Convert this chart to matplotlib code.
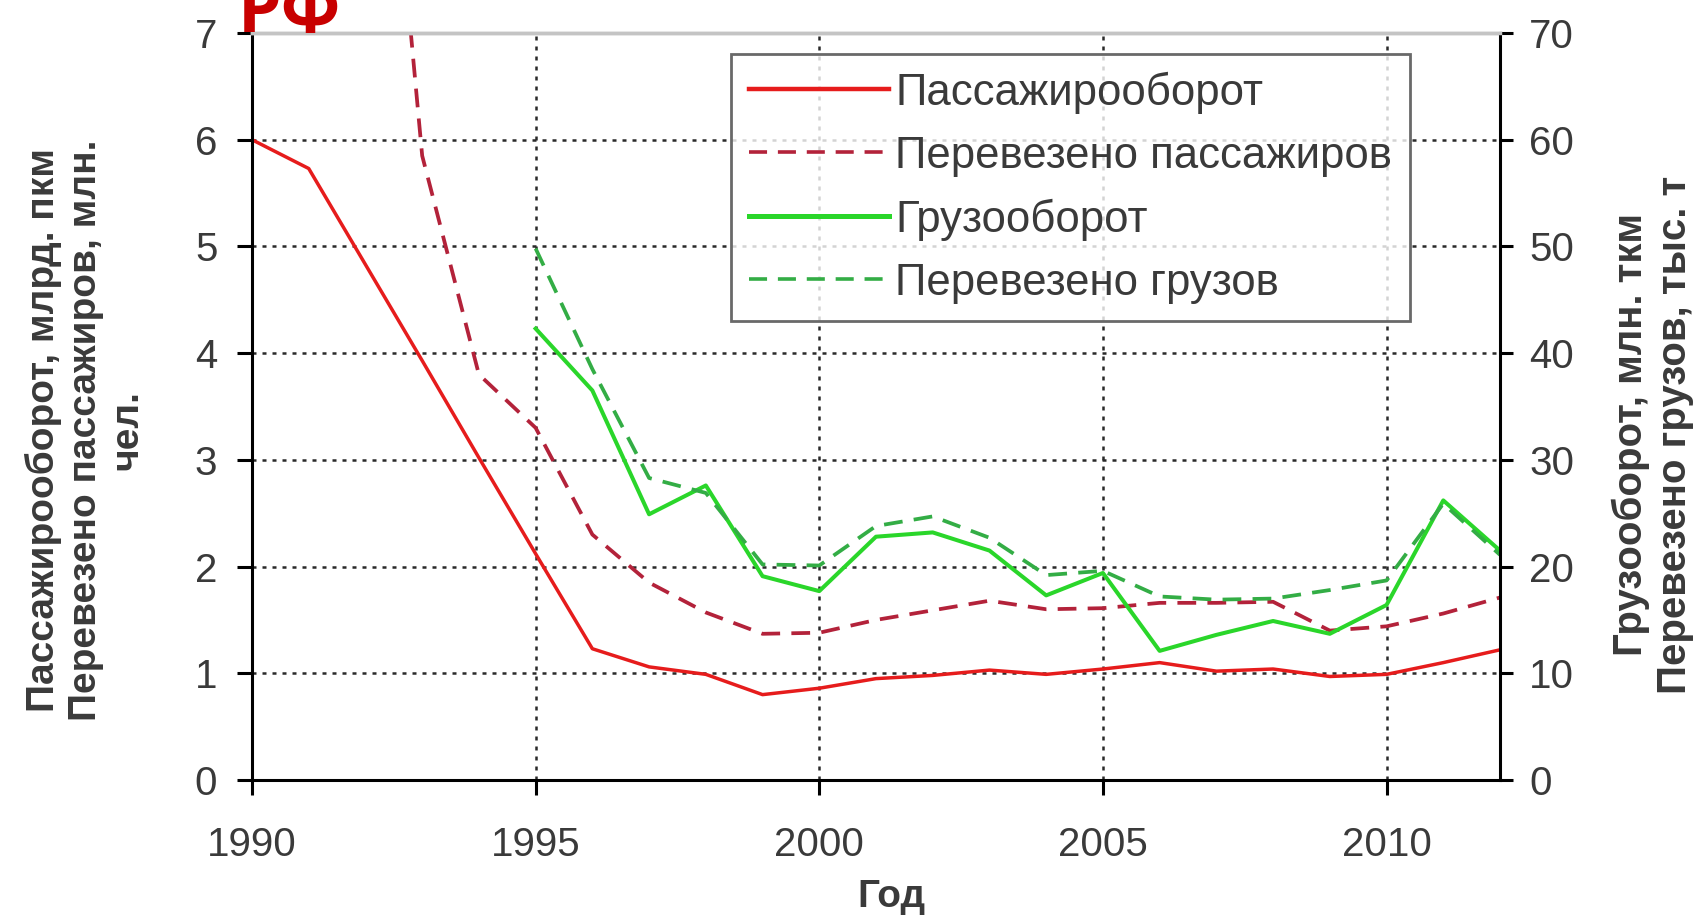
import matplotlib
matplotlib.use('Agg')
import matplotlib.pyplot as plt
from matplotlib.lines import Line2D

plt.rcParams['font.family'] = ['Liberation Sans', 'DejaVu Sans']

# data
years = list(range(1990, 2013))
pass_turnover = [6.0, 5.73, 4.83, 3.93, 3.02, 2.12, 1.23, 1.06, 0.99, 0.80, 0.86, 0.95,
                 0.98, 1.03, 0.99, 1.04, 1.10, 1.02, 1.04, 0.97, 0.99, 1.10, 1.22]
pass_years = list(range(1992, 2013))
pass_carried = [11.6, 5.85, 3.8, 3.3, 2.3, 1.85, 1.57, 1.37, 1.38, 1.5, 1.59, 1.68,
                1.60, 1.61, 1.66, 1.66, 1.67, 1.40, 1.44, 1.56, 1.71]
cargo_years = list(range(1995, 2013))
cargo_turnover = [42.3, 36.5, 24.9, 27.6, 19.1, 17.7, 22.8, 23.2, 21.5, 17.3, 19.4,
                  12.1, 13.6, 14.9, 13.7, 16.4, 26.2, 21.5]
cargo_carried = [49.8, 38.5, 28.3, 26.9, 20.2, 20.1, 23.8, 24.7, 22.7, 19.2, 19.6,
                 17.2, 16.9, 17.0, 17.8, 18.7, 25.9, 21.1]

labels = ['Пассажирооборот', 'Перевезено пассажиров', 'Грузооборот', 'Перевезено грузов']

c_red = '#e61c1c'
c_red_d = '#b3223a'
c_green = '#2ad62a'
c_green_d = '#33ad45'
txt = '#3a3a3a'

fig = plt.figure(figsize=(17.04, 9.16), dpi=100)
ax = fig.add_axes([252 / 1704, 1 - 780 / 916, (1500 - 252) / 1704, (780 - 33) / 916])
ax2 = ax.twinx()

ax.plot(years, pass_turnover, color=c_red, lw=2.5)
ax.plot(pass_years, pass_carried, color=c_red_d, lw=2.7, dashes=(5, 3))
ax2.plot(cargo_years, cargo_turnover, color=c_green, lw=2.9)
ax2.plot(cargo_years, cargo_carried, color=c_green_d, lw=2.7, dashes=(5, 3))

ax.set_xlim(1990, 2012)
ax.set_ylim(0, 7)
ax2.set_ylim(0, 70)
ax.set_xticks([1990, 1995, 2000, 2005, 2010])
ax.set_yticks(range(0, 8))
ax2.set_yticks(range(0, 80, 10))

# grid
for x in [1995, 2000, 2005, 2010]:
    ax.axvline(x, color='#2a2a2a', lw=1.8, dashes=(1.6, 2.4), zorder=0.5)
for y in range(1, 7):
    ax.axhline(y, color='#2a2a2a', lw=1.8, dashes=(1.6, 2.4), zorder=0.5)

for a in (ax, ax2):
    for s in ('left', 'right', 'bottom'):
        a.spines[s].set_linewidth(2.2)
        a.spines[s].set_color('black')
    a.spines['top'].set_color('#c4c4c4')
    a.spines['top'].set_linewidth(2.5)
ax.spines['right'].set_visible(False)
ax2.spines['left'].set_visible(False)
ax2.spines['bottom'].set_visible(False)

ax.tick_params(axis='x', direction='out', length=11, width=2.2, pad=22, labelsize=29, labelcolor=txt)
ax.tick_params(axis='y', direction='out', length=11, width=2.2, pad=14, labelsize=29, labelcolor=txt)
ax2.tick_params(axis='y', direction='out', length=9, width=2.2, pad=12, labelsize=29, labelcolor=txt)

# axis labels
fig.text(85 / 1704, 1 - 430 / 916, 'Пассажирооборот, млрд. пкм\nПеревезено пассажиров, млн.\nчел.',
         rotation=90, ha='center', va='center', multialignment='center',
         fontsize=28, fontweight='bold', color=txt, linespacing=1.2)
fig.text(1653 / 1704, 1 - 435 / 916, 'Грузооборот, млн. ткм\nПеревезено грузов, тыс. т',
         rotation=90, ha='center', va='center', multialignment='center',
         fontsize=29, fontweight='bold', color=txt, linespacing=1.2)
fig.text(891 / 1704, 1 - 897 / 916, 'Год', ha='center', va='center',
         fontsize=28, fontweight='bold', color=txt)
fig.text(238 / 1704, 1 - 32 / 916, 'РФ', ha='left', va='baseline',
         fontsize=50, fontweight='bold', color='#c80000', family='Open Sans')

# legend
handles = [Line2D([], [], color=c_red, lw=3.2),
           Line2D([], [], color=c_red_d, lw=2.6, dashes=(5, 3)),
           Line2D([], [], color=c_green, lw=3.6),
           Line2D([], [], color=c_green_d, lw=2.6, dashes=(5, 3))]
leg = ax2.legend(handles, labels, loc='upper left', bbox_to_anchor=(731 / 1704, 1 - 54 / 916),
                 bbox_transform=fig.transFigure, fontsize=31.5, frameon=True, fancybox=False,
                 handlelength=3.2, handletextpad=0.15, labelspacing=0.5,
                 borderpad=0.4, borderaxespad=0)
leg.get_frame().set_edgecolor('#444444')
leg.get_frame().set_linewidth(2)
for t in leg.get_texts():
    t.set_color(txt)

fig.savefig('out.png', dpi=100)
